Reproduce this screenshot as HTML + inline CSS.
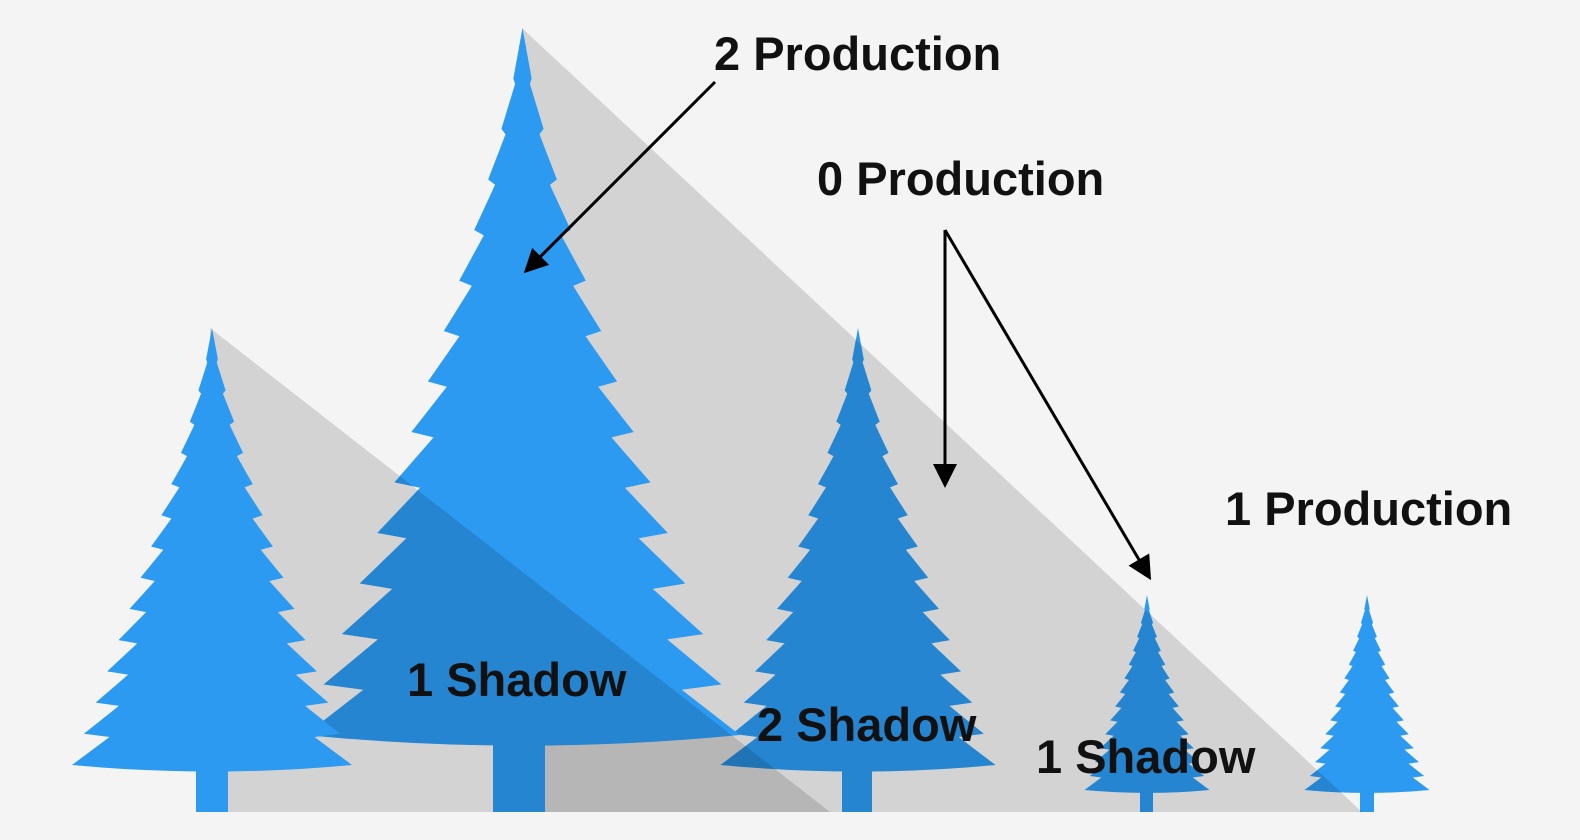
<!DOCTYPE html>
<html><head><meta charset="utf-8"><style>
html,body{margin:0;padding:0;background:#f4f4f4;}
svg{display:block;}
text{font-family:"Liberation Sans",Arial,sans-serif;font-weight:bold;font-size:47px;fill:#111;}
</style></head><body>
<svg width="1580" height="840" viewBox="0 0 1580 840">
<defs>
<path id="t" d="M100,0 L104.2,28.6 103.4,31.6 109.7,57.1 107.8,60.1 115.8,85.7 112.6,88.7 122.2,114.3 117.8,117.3 129.1,142.9 123.3,145.9 136.2,171.4 129,174.4 143.5,200 134.8,203 151.1,228.6 140.9,231.6 158.9,257.1 147.1,260.1 166.8,285.7 153.4,288.7 174.9,314.3 159.9,317.3 183.1,342.9 166.5,345.9 191.5,371.4 173.2,374.4 200,400 Q100,412 0,400 L26.8,374.4 8.5,371.4 33.5,345.9 16.9,342.9 40.1,317.3 25.1,314.3 46.6,288.7 33.2,285.7 52.9,260.1 41.1,257.1 59.1,231.6 48.9,228.6 65.2,203 56.5,200 71,174.4 63.8,171.4 76.7,145.9 70.9,142.9 82.2,117.3 77.8,114.3 87.4,88.7 84.2,85.7 92.2,60.1 90.3,57.1 96.6,31.6 95.8,28.6 Z"/>
<marker id="a" markerWidth="8" markerHeight="8" refX="6" refY="4" orient="auto" markerUnits="strokeWidth"><path d="M0,0 L8,4 L0,8 Z" fill="#000"/></marker>
</defs>
<rect width="1580" height="840" fill="#f4f4f4"/>
<g fill="#2b9af0">
<rect x="842" y="740" width="30" height="72"/>
<use href="#t" transform="translate(720.5,328) scale(1.375,1.0925)"/>
<rect x="1140" y="780" width="13" height="32"/>
<use href="#t" transform="translate(1084.5,595) scale(.625,.4875)"/>
<rect x="1360" y="780" width="14" height="32"/>
<use href="#t" transform="translate(1304.5,595) scale(.625,.4875)"/>
</g>
<polygon points="522,28 1362,812 522,812" fill="rgba(0,0,0,0.135)"/>
<g fill="#2b9af0">
<rect x="493" y="720" width="52" height="92"/>
<use href="#t" transform="translate(305,28) scale(2.175,1.7675)"/>
</g>
<polygon points="210,328 830,812 210,812" fill="rgba(0,0,0,0.135)"/>
<g fill="#2b9af0">
<rect x="196" y="745" width="32" height="67"/>
<use href="#t" transform="translate(72,328) scale(1.4,1.0925)"/>
</g>
<g stroke="#000" stroke-width="3" fill="none">
<line x1="715" y1="82" x2="528" y2="269" marker-end="url(#a)"/>
<line x1="945" y1="230" x2="945" y2="482" marker-end="url(#a)"/>
<line x1="945" y1="230" x2="1148" y2="575" marker-end="url(#a)"/>
</g>
<text x="714" y="70">2 Production</text>
<text x="817" y="195">0 Production</text>
<text x="1225" y="525">1 Production</text>
<text x="407" y="696">1 Shadow</text>
<text x="757" y="741">2 Shadow</text>
<text x="1036" y="773">1 Shadow</text>
</svg>
</body></html>
